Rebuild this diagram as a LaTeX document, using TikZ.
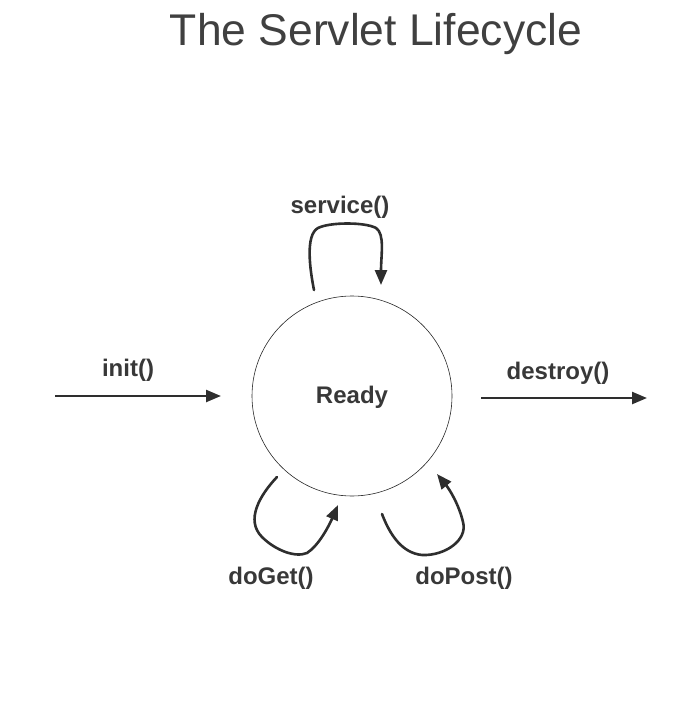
\documentclass[tikz,border=0pt]{standalone}
\usepackage{fontspec}
\setmainfont{Liberation Sans}
\usetikzlibrary{arrows.meta}
\begin{document}
\begin{tikzpicture}[x=1pt,y=-1pt,
  ink/.style={draw=black!82},
  flow/.style={ink, line width=2.4pt, -{Triangle[length=15pt,width=12pt]}},
  loop/.style={ink, line width=2.6pt, line cap=round, -{Triangle[length=15pt,width=12pt]}},
  lbl/.style={font=\bfseries\fontsize{24}{28}\selectfont, text=black!78, inner sep=0pt}]
\useasboundingbox (0,0) rectangle (690,714);
\node[font=\fontsize{44.4}{50}\selectfont, text=black!75, inner sep=0pt] (title) at (376,34) {The Servlet Lifecycle};
\node[circle, draw=black!85, line width=0.6pt, minimum size=200pt, inner sep=0pt] (ready) at (352,396) {};
\node[lbl] (readylbl) at (352,397) {Ready};
% init / destroy
\coordinate (initS) at (55,396);
\coordinate (initE) at (221,396);
\draw[flow] (initS) -- (initE);
\node[lbl] (init) at (128,370) {init()};
\coordinate (desS) at (481,398);
\coordinate (desE) at (647,398);
\draw[flow] (desS) -- (desE);
\node[lbl] (destroy) at (558,373) {destroy()};
% service loop
\coordinate (svS) at (314,290);
\coordinate (svE) at (381,285);
\draw[loop] (svS) .. controls (310,270) and (305,235) .. (318,228)
  .. controls (330,222) and (365,222) .. (376,228)
  .. controls (385,234) and (381,255) .. (svE);
\node[lbl] (service) at (340,207) {service()};
% doGet loop
\coordinate (dgS) at (277,477);
\coordinate (dgE) at (338,505);
\draw[loop] (dgS) .. controls (260,495) and (245,520) .. (262,537)
  .. controls (275,550) and (295,558) .. (307,553)
  .. controls (318,546) and (328,528) .. (dgE);
\node[lbl] (doget) at (271,578) {doGet()};
% doPost loop
\coordinate (dpS) at (382,514);
\coordinate (dpE) at (437,474);
\draw[loop] (dpS) .. controls (390,535) and (402,553) .. (422,555)
  .. controls (445,556) and (468,540) .. (463,522)
  .. controls (459,505) and (450,490) .. (dpE);
\node[lbl] (dopost) at (464,578) {doPost()};
\end{tikzpicture}
\end{document}
